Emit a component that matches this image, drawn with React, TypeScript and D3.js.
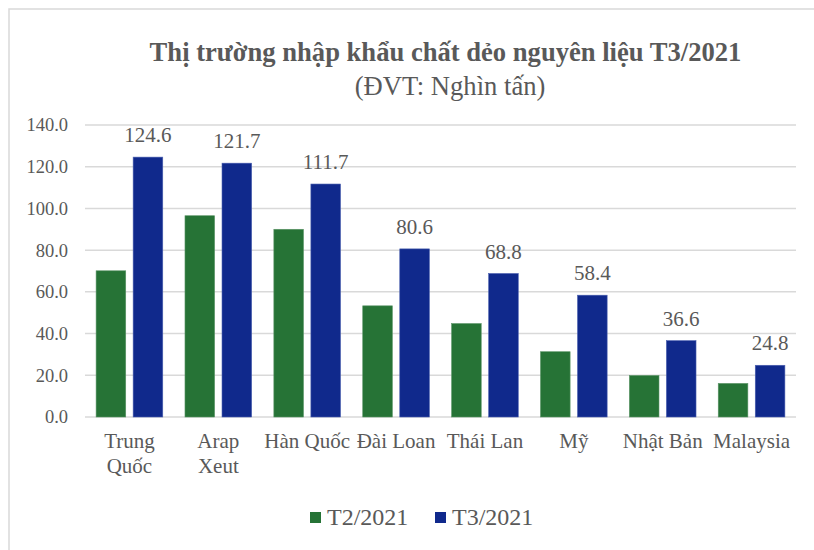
import React from "react";
import * as d3 from "d3";

const categories = ["Trung\nQuốc", "Arap\nXeut", "Hàn Quốc", "Đài Loan", "Thái Lan", "Mỹ", "Nhật Bản", "Malaysia"];
const seriesNames = ["T2/2021", "T3/2021"];
const t2Values = [70.1, 96.5, 90.0, 53.3, 44.8, 31.3, 19.9, 16.1];
const t3Values = [124.6, 121.7, 111.7, 80.6, 68.8, 58.4, 36.6, 24.8];
const yTicks = [0, 20, 40, 60, 80, 100, 120, 140];
const colors = ["#267336", "#10298c"];

const W = 814;
const H = 550;
const textColor = "#595959";
const font = "'Liberation Serif', 'Times New Roman', serif";

export default function App() {
  const x0 = d3.scaleBand<string>().domain(categories).range([85, 796]).paddingInner(0.25).paddingOuter(0.125);
  const x1 = d3.scaleBand<string>().domain(seriesNames).range([0, x0.bandwidth()]).paddingInner(0.2).paddingOuter(0);
  const y = d3.scaleLinear().domain([0, 140]).range([417, 125]);
  const series = [t2Values, t3Values];

  return (
    <svg width={W} height={H} style={{ position: "absolute", left: 0, top: 0, background: "#fff" }} fontFamily={font}>
      <rect x={9} y={9} width={W + 20} height={H + 20} fill="#fff" stroke="#d9d9d9" strokeWidth={1.5} />
      <text x={445.5} y={61} textAnchor="middle" fontSize={26.6} fontWeight="bold" fill={textColor}>
        Thị trường nhập khẩu chất dẻo nguyên liệu T3/2021
      </text>
      <text x={450} y={95} textAnchor="middle" fontSize={26.6} fill={textColor}>
        (ĐVT: Nghìn tấn)
      </text>
      {yTicks.map((t) => (
        <g key={t}>
          <line x1={85} x2={796} y1={y(t)} y2={y(t)} stroke="#d9d9d9" strokeWidth={1.5} />
          <text x={68} y={y(t)} dy="0.35em" textAnchor="end" fontSize={18.5} fill={textColor}>
            {d3.format(".1f")(t)}
          </text>
        </g>
      ))}
      {categories.map((c, i) => (
        <g key={c} transform={`translate(${x0(c)},0)`}>
          {series.map((vals, s) => (
            <rect
              key={s}
              x={x1(seriesNames[s])}
              y={y(vals[i])}
              width={x1.bandwidth()}
              height={y(0) - y(vals[i])}
              fill={colors[s]}
              stroke={s === 0 ? "#5a9466" : "#4a5fb0"}
              strokeWidth={0.6}
            />
          ))}
          <text
            x={(x1(seriesNames[1]) as number) + x1.bandwidth() / 2}
            y={y(t3Values[i]) - 15}
            textAnchor="middle"
            fontSize={21}
            fill={textColor}
          >
            {d3.format(".1f")(t3Values[i])}
          </text>
          {c.split("\n").map((line, k) => (
            <text key={k} x={x0.bandwidth() / 2} y={448 + k * 25} textAnchor="middle" fontSize={21} fill={textColor}>
              {line}
            </text>
          ))}
        </g>
      ))}
      {seriesNames.map((s, i) => (
        <g key={s} transform={`translate(${i === 0 ? 310 : 435},512)`}>
          <rect x={0} y={0} width={11} height={11} fill={colors[i]} />
          <text x={17} y={13} fontSize={24} fill={textColor}>
            {s}
          </text>
        </g>
      ))}
    </svg>
  );
}
